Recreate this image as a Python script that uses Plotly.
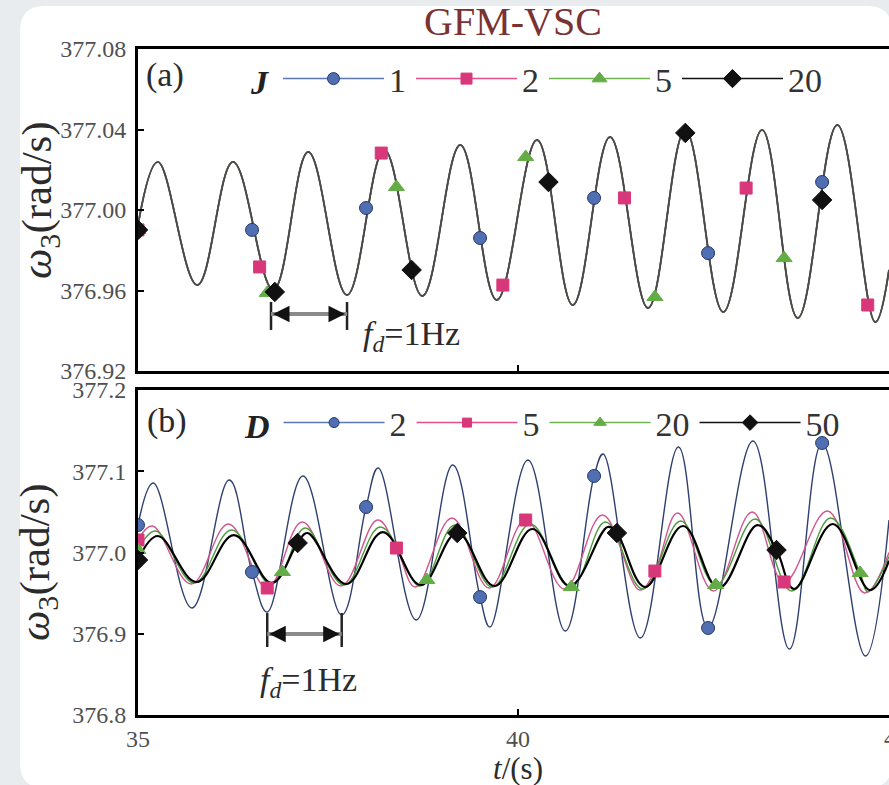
import plotly.graph_objects as go

SERIF = "Liberation Serif"

# ---------------- data ----------------
x_ticks = [35, 40, 45]
x_ticktext = ["35", "40", "45"]
a_yticks = [376.92, 376.96, 377.00, 377.04, 377.08]
a_yticktext = ["376.92", "376.96", "377.00", "377.04", "377.08"]
b_yticks = [376.8, 376.9, 377.0, 377.1, 377.2]
b_yticktext = ["376.8", "376.9", "377.0", "377.1", "377.2"]

# Panel (a): omega_3 for J = 1, 2, 5, 20 (the four curves coincide) - extrema and edges
a_peak_t = [35.26, 36.25, 37.24, 38.24, 39.24, 40.25, 41.21, 42.20, 43.21, 44.20]
a_peak_w = [377.0239, 377.0239, 377.0288, 377.0298, 377.0323, 377.0348, 377.0363, 377.0398, 377.0398, 377.0422]
a_trough_t = [35.78, 36.78, 37.75, 38.74, 39.72, 40.72, 41.71, 42.70, 43.68, 44.70]
a_trough_w = [376.9627, 376.9603, 376.9578, 376.9573, 376.9553, 376.9528, 376.9513, 376.9493, 376.9463, 376.9443]
a_edge_t = [35.0, 44.88]
a_edge_w = [376.9925, 376.9702]

# Panel (a) markers
a_j1_t = [35.0, 36.5, 38.0, 39.5, 41.0, 42.5, 44.0]
a_j1_w = [376.9901, 376.9901, 377.0010, 376.9861, 377.0060, 376.9786, 377.0139]
a_j2_t = [35.0, 36.6, 38.2, 39.8, 41.4, 43.0, 44.6]
a_j2_w = [376.9901, 376.9717, 377.0283, 376.9627, 377.0060, 377.0109, 376.9528]
a_j5_t = [35.0, 36.7, 38.4, 40.1, 41.8, 43.5]
a_j5_w = [376.9901, 376.9588, 377.0114, 377.0263, 376.9568, 376.9761]
a_j20_t = [35.0, 36.8, 38.6, 40.4, 42.2, 44.0]
a_j20_w = [376.9901, 376.9593, 376.9702, 377.0139, 377.0383, 377.0050]

# Panel (b): omega_3 for D = 2, 5, 20, 50 - extrema and end
b_d2_peak_t = [35.20, 36.20, 37.17, 38.16, 39.14, 40.13, 41.12, 42.11, 43.09, 44.08]
b_d2_peak_w = [377.0855, 377.0892, 377.0942, 377.1040, 377.1077, 377.1138, 377.1212, 377.1298, 377.1372, 377.1409]
b_d2_trough_t = [35.71, 36.70, 37.68, 38.66, 39.63, 40.62, 41.61, 42.58, 43.57, 44.57]
b_d2_trough_w = [376.9317, 376.9268, 376.9231, 376.9169, 376.9083, 376.9034, 376.8948, 376.8874, 376.8812, 376.8726]
b_d5_peak_t = [35.19, 36.19, 37.16, 38.15, 39.13, 40.12, 41.11, 42.10, 43.08, 44.07]
b_d5_peak_w = [377.0326, 377.0351, 377.0375, 377.0400, 377.0425, 377.0449, 377.0462, 377.0486, 377.0498, 377.0511]
b_d5_trough_t = [35.70, 36.69, 37.67, 38.65, 39.62, 40.61, 41.60, 42.57, 43.56, 44.56]
b_d5_trough_w = [376.9612, 376.9600, 376.9588, 376.9575, 376.9563, 376.9551, 376.9538, 376.9526, 376.9514, 376.9502]
b_d20_peak_t = [35.23, 36.23, 37.20, 38.19, 39.17, 40.16, 41.15, 42.14, 43.12, 44.11]
b_d20_peak_w = [377.0265, 377.0277, 377.0302, 377.0314, 377.0338, 377.0351, 377.0375, 377.0388, 377.0412, 377.0425]
b_d20_trough_t = [35.74, 36.73, 37.71, 38.69, 39.66, 40.65, 41.64, 42.61, 43.60, 44.60]
b_d20_trough_w = [376.9625, 376.9612, 376.9600, 376.9588, 376.9575, 376.9563, 376.9551, 376.9538, 376.9526, 376.9514]
b_d50_peak_t = [35.26, 36.26, 37.23, 38.22, 39.20, 40.19, 41.18, 42.17, 43.15, 44.14]
b_d50_peak_w = [377.0203, 377.0215, 377.0240, 377.0252, 377.0277, 377.0289, 377.0314, 377.0326, 377.0338, 377.0351]
b_d50_trough_t = [35.77, 36.76, 37.74, 38.72, 39.69, 40.68, 41.67, 42.64, 43.63, 44.63]
b_d50_trough_w = [376.9637, 376.9625, 376.9612, 376.9600, 376.9588, 376.9588, 376.9575, 376.9563, 376.9551, 376.9538]
b_end_t = [44.88]
b_d2_end_w = [377.0400]
b_d5_end_w = [377.0000]
b_d20_end_w = [376.9950]
b_d50_end_w = [376.9900]

# Panel (b) markers
b_d2_t = [35.0, 36.5, 38.0, 39.5, 41.0, 42.5, 44.0]
b_d2_w = [377.0338, 376.9760, 377.0560, 376.9452, 377.0942, 376.9071, 377.1348]
b_d5_t = [35.0, 36.7, 38.4, 40.1, 41.8, 43.5]
b_d5_w = [377.0154, 376.9563, 377.0055, 377.0400, 376.9772, 376.9637]
b_d20_t = [35.0, 36.9, 38.8, 40.7, 42.6, 44.5]
b_d20_w = [377.0030, 376.9760, 376.9662, 376.9575, 376.9600, 376.9748]
b_d50_t = [35.0, 37.1, 39.2, 41.3, 43.4]
b_d50_w = [376.9908, 377.0117, 377.0240, 377.0240, 377.0030]

# f_d = 1 Hz brackets (one period)
a_fd_t = [36.75, 37.75]
a_fd_w = [376.9404, 376.9543, 376.9483]   # bar bottom, bar top, arrow level
b_fd_t = [36.70, 37.68]
b_fd_w = [376.8837, 376.9255, 376.8997]

# ---------------- geometry helpers (pixel -> paper) ----------------
W, H = 889, 785
ML, MT, MB = 138, 49, 70
PW = W - ML
PH = H - MT - MB


def fx(x):
    return (x - ML) / PW


def fy(y):
    return (H - MB - y) / PH


def merge(ts, ws, mt, mw, tol=0.1):
    pts = list(zip(mt, mw))
    for t, w in zip(ts, ws):
        if all(abs(t - m) > tol for m in mt):
            pts.append((t, w))
    pts.sort()
    return [p[0] for p in pts], [p[1] for p in pts]


def ordered(ts, ws):
    pts = sorted(zip(ts, ws))
    return [p[0] for p in pts], [p[1] for p in pts]


BLUE_L, BLUE_M, BLUE_E = "#4865a8", "#4f6fb2", "#27386a"
PINK = "#d8387a"
GREEN = "#62ad45"
BLACK = "#111111"

sym = {"blue": ("circle", 13, BLUE_M, BLUE_E), "pink": ("square", 12, PINK, PINK),
       "green": ("triangle-up", 14, GREEN, GREEN), "black": ("diamond", 15, BLACK, BLACK)}

fig = go.Figure()

a_line_t, a_line_w = ordered(a_peak_t + a_trough_t + a_edge_t, a_peak_w + a_trough_w + a_edge_w)
a_specs = [("1", a_j1_t, a_j1_w, BLUE_L, "blue", 1.5),
           ("2", a_j2_t, a_j2_w, PINK, "pink", 1.5),
           ("5", a_j5_t, a_j5_w, GREEN, "green", 1.5),
           ("20", a_j20_t, a_j20_w, "#4a4a4a", "black", 1.9)]

b_specs = [("2", b_d2_peak_t + b_d2_trough_t + b_end_t, b_d2_peak_w + b_d2_trough_w + b_d2_end_w,
            b_d2_t, b_d2_w, "#2f3f6e", "blue", 1.4),
           ("5", b_d5_peak_t + b_d5_trough_t + b_end_t, b_d5_peak_w + b_d5_trough_w + b_d5_end_w,
            b_d5_t, b_d5_w, "#d0568e", "pink", 1.4),
           ("20", b_d20_peak_t + b_d20_trough_t + b_end_t, b_d20_peak_w + b_d20_trough_w + b_d20_end_w,
            b_d20_t, b_d20_w, "#4f9a3c", "green", 1.4),
           ("50", b_d50_peak_t + b_d50_trough_t + b_end_t, b_d50_peak_w + b_d50_trough_w + b_d50_end_w,
            b_d50_t, b_d50_w, "#000000", "black", 2.2)]

legend_line = {"blue": "#5a78b8", "pink": "#e0508a", "green": "#6fb552", "black": "#111111"}

# lines (panel a: the four J responses coincide)
for name, mt, mw, col, key, lw in a_specs:
    fig.add_trace(go.Scatter(x=a_line_t, y=a_line_w, mode="lines",
                             line=dict(color=col, width=lw, shape="spline", smoothing=1.1),
                             showlegend=False, xaxis="x", yaxis="y", hoverinfo="skip"))
for name, et, ew, mt, mw, col, key, lw in b_specs:
    lt, lwv = merge(et, ew, mt, mw)
    fig.add_trace(go.Scatter(x=lt, y=lwv, mode="lines", line=dict(color=col, width=lw, shape="spline", smoothing=1.1),
                             showlegend=False, xaxis="x2", yaxis="y2", hoverinfo="skip"))

# markers
for name, mt, mw, col, key, lw in a_specs:
    s, sz, fc, ec = sym[key]
    fig.add_trace(go.Scatter(x=mt, y=mw, mode="markers",
                             marker=dict(symbol=s, size=sz, color=fc, line=dict(color=ec, width=1)),
                             showlegend=False, xaxis="x", yaxis="y", hoverinfo="skip"))
for name, et, ew, mt, mw, col, key, lw in b_specs:
    s, sz, fc, ec = sym[key]
    fig.add_trace(go.Scatter(x=mt, y=mw, mode="markers",
                             marker=dict(symbol=s, size=sz, color=fc, line=dict(color=ec, width=1)),
                             showlegend=False, xaxis="x2", yaxis="y2", hoverinfo="skip"))

# legend entries
for name, mt, mw, col, key, lw in a_specs:
    s, sz, fc, ec = sym[key]
    fig.add_trace(go.Scatter(x=[None], y=[None], mode="lines+markers", name=name, legend="legend",
                             line=dict(color=legend_line[key], width=1.5),
                             marker=dict(symbol=s, size=sz - 1, color=fc, line=dict(color=ec, width=1)),
                             xaxis="x", yaxis="y"))
for name, et, ew, mt, mw, col, key, lw in b_specs:
    s, sz, fc, ec = sym[key]
    fig.add_trace(go.Scatter(x=[None], y=[None], mode="lines+markers", name=name, legend="legend2",
                             line=dict(color=legend_line[key], width=1.5),
                             marker=dict(symbol=s, size=sz - 3, color=fc, line=dict(color=ec, width=1)),
                             xaxis="x2", yaxis="y2"))


def rounded(x0, y0, x1, y1, r):
    P = lambda x, y: f"{fx(x):.5f},{fy(y):.5f}"
    return (f"M{P(x0 + r, y0)} L{P(x1 - r, y0)} Q{P(x1, y0)} {P(x1, y0 + r)} "
            f"L{P(x1, y1 - r)} Q{P(x1, y1)} {P(x1 - r, y1)} L{P(x0 + r, y1)} "
            f"Q{P(x0, y1)} {P(x0, y1 - r)} L{P(x0, y0 + r)} Q{P(x0, y0)} {P(x0 + r, y0)} Z")


shapes = [dict(type="path", xref="paper", yref="paper", path=rounded(20, 6, 892, 788, 25),
               fillcolor="white", line=dict(width=0), layer="below")]
annotations = []
for xa, ya, ft, fw in (("x", "y", a_fd_t, a_fd_w), ("x2", "y2", b_fd_t, b_fd_w)):
    for t in ft:
        shapes.append(dict(type="line", xref=xa, yref=ya, x0=t, x1=t, y0=fw[0], y1=fw[1],
                           line=dict(color="#222", width=2.5)))
    shapes.append(dict(type="line", xref=xa, yref=ya, x0=ft[0], x1=ft[1], y0=fw[2], y1=fw[2],
                       line=dict(color="#8a8a8a", width=4)))
    for t, off in ((ft[0], 13), (ft[1], -13)):
        annotations.append(dict(xref=xa, yref=ya, x=t, y=fw[2], ax=off, ay=0, text="", showarrow=True,
                                arrowhead=2, arrowsize=1.1, arrowwidth=3, arrowcolor="#111", standoff=2))

TXT = "#2b2b2b"


def note(text, x, y, size, angle=0, color=TXT):
    annotations.append(dict(xref="paper", yref="paper", x=fx(x), y=fy(y), text=text, showarrow=False,
                            xanchor="center", yanchor="middle", textangle=angle,
                            font=dict(family=SERIF, size=size, color=color)))


note("GFM-VSC", 513, 22, 40, color="#7a3232")
note("(a)", 165, 75, 34)
note("(b)", 167, 421, 34)
note("<i>ω</i><sub>3</sub>(rad/s)", 40, 200, 43, angle=-90)
note("<i>ω</i><sub>3</sub>(rad/s)", 38, 562, 43, angle=-90)
note("<i>t</i>/(s)", 518, 768, 31)
note("45", 896, 738, 24, color="#505050")   # tick label cut by the right edge
note("<i>f</i><sub><i>d</i></sub>=1Hz", 411, 336, 34)
note("<i>f</i><sub><i>d</i></sub>=1Hz", 308, 682, 34)

tickfont = dict(family=SERIF, size=24, color="#505050")
ax_common = dict(showgrid=False, zeroline=False, showline=True, linewidth=3, linecolor="black",
                 ticks="inside", ticklen=6, tickwidth=2, tickcolor="black", automargin=False)

legend_common = dict(orientation="h", xanchor="left", yanchor="middle", bgcolor="rgba(0,0,0,0)",
                     font=dict(family=SERIF, size=34, color="#333"), itemwidth=101,
                     itemclick=False, itemdoubleclick=False, traceorder="normal")

fig.update_layout(
    template="none",
    width=W, height=H, autosize=False,
    margin=dict(l=ML, r=0, t=MT, b=MB, pad=0),
    paper_bgcolor="#e9ecef", plot_bgcolor="rgba(0,0,0,0)",
    showlegend=True,
    xaxis=dict(domain=[0, 1], anchor="y", range=[35, 44.88], tickvals=x_ticks, showticklabels=False,
               mirror=True, **ax_common),
    yaxis=dict(domain=[fy(371), 1], anchor="x", range=[376.92, 377.08], tickvals=a_yticks,
               ticktext=a_yticktext, tickfont=tickfont, ticklabelstandoff=4, **ax_common),
    xaxis2=dict(domain=[0, 1], anchor="y2", range=[35, 44.88], tickvals=x_ticks, ticktext=x_ticktext,
                tickfont=tickfont, mirror=True, ticklabelstandoff=0, **ax_common),
    yaxis2=dict(domain=[0, fy(390)], anchor="x2", range=[376.8, 377.2], tickvals=b_yticks,
                ticktext=b_yticktext, tickfont=tickfont, ticklabelstandoff=4, **ax_common),
    legend=dict(x=fx(249), y=fy(79), title=dict(text="<b><i>J</i></b>", side="left",
                                                  font=dict(family=SERIF, size=34, color="#222")),
                **legend_common),
    legend2=dict(x=fx(243), y=fy(423), title=dict(text="<b><i>D</i></b>", side="left",
                                                    font=dict(family=SERIF, size=34, color="#222")),
                 **legend_common),
    shapes=shapes,
    annotations=annotations,
)

fig.write_html("out.html", config={"displayModeBar": False},
               post_script="document.body.style.margin='0';document.body.style.overflow='hidden';")
